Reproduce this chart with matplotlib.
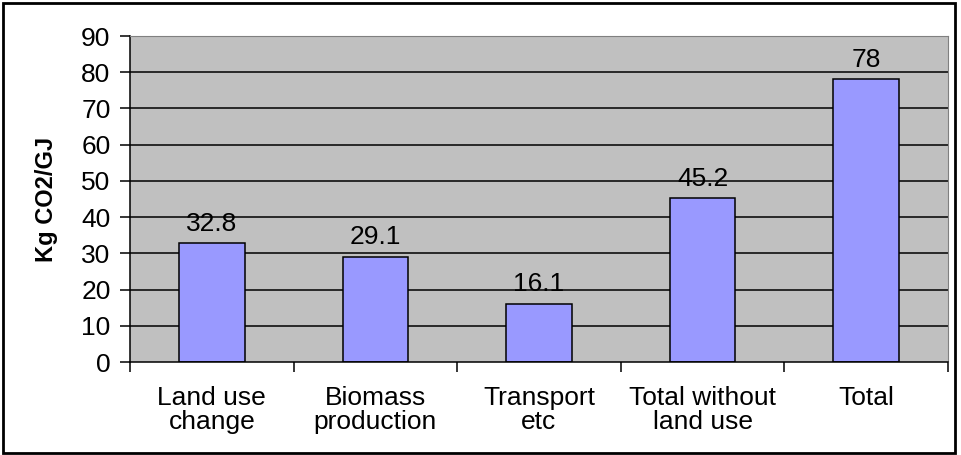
import matplotlib
matplotlib.use("Agg")
import matplotlib.pyplot as plt
from matplotlib.patches import Rectangle

categories = ["Land use\nchange", "Biomass\nproduction", "Transport\netc", "Total without\nland use", "Total"]
values = [32.8, 29.1, 16.1, 45.2, 78]
value_labels = ["32.8", "29.1", "16.1", "45.2", "78"]
y_ticks = [0, 10, 20, 30, 40, 50, 60, 70, 80, 90]

plt.rcParams["font.family"] = ["Liberation Sans", "DejaVu Sans"]

W, H = 962, 455
fig = plt.figure(figsize=(W / 100, H / 100), dpi=100)
fig.patch.set_facecolor("white")

# outer chart frame
fig.patches.append(Rectangle((3 / W, 2 / H), 952 / W, 450 / H, transform=fig.transFigure,
                             fill=False, edgecolor="black", linewidth=2))

left, right, top, bottom = 130, 948, 36, 362
ax = fig.add_axes([left / W, 1 - bottom / H, (right - left) / W, (bottom - top) / H])
ax.set_facecolor("#C0C0C0")

x = list(range(len(categories)))
ax.set_xlim(-0.5, len(categories) - 0.5)
ax.set_ylim(0, 90)

for y in y_ticks[1:]:
    ax.axhline(y, color="black", linewidth=1.1, zorder=1)

ax.bar(x, values, width=0.4, color="#9999FF", edgecolor="black", linewidth=1.1, zorder=2)

for xi, v, lab in zip(x, values, value_labels):
    ax.text(xi, v + 2.0, lab, ha="center", va="bottom", fontsize=19, color="black", zorder=3)

ax.set_yticks(y_ticks)
ax.set_yticklabels([str(t) for t in y_ticks], fontsize=19)
ax.tick_params(axis="y", direction="out", length=7, width=1.1, pad=7)

# category labels centred, tick marks at category boundaries
ax.set_xticks([i - 0.5 for i in range(len(categories) + 1)])
ax.set_xticklabels([])
ax.tick_params(axis="x", direction="out", length=7, width=1.1)
for xi, c in zip(x, categories):
    ax.text(xi, -6.5, c, ha="center", va="top", fontsize=19, linespacing=1.0,
            transform=ax.transData, clip_on=False)

ax.spines["left"].set_color("black")
ax.spines["left"].set_linewidth(1.1)
ax.spines["bottom"].set_color("black")
ax.spines["bottom"].set_linewidth(1.1)
ax.spines["top"].set_color("#808080")
ax.spines["right"].set_color("#808080")

ax.set_ylabel("Kg CO2/GJ", fontsize=17, fontweight="bold", labelpad=17)

fig.savefig("out.png", dpi=100, facecolor="white")
